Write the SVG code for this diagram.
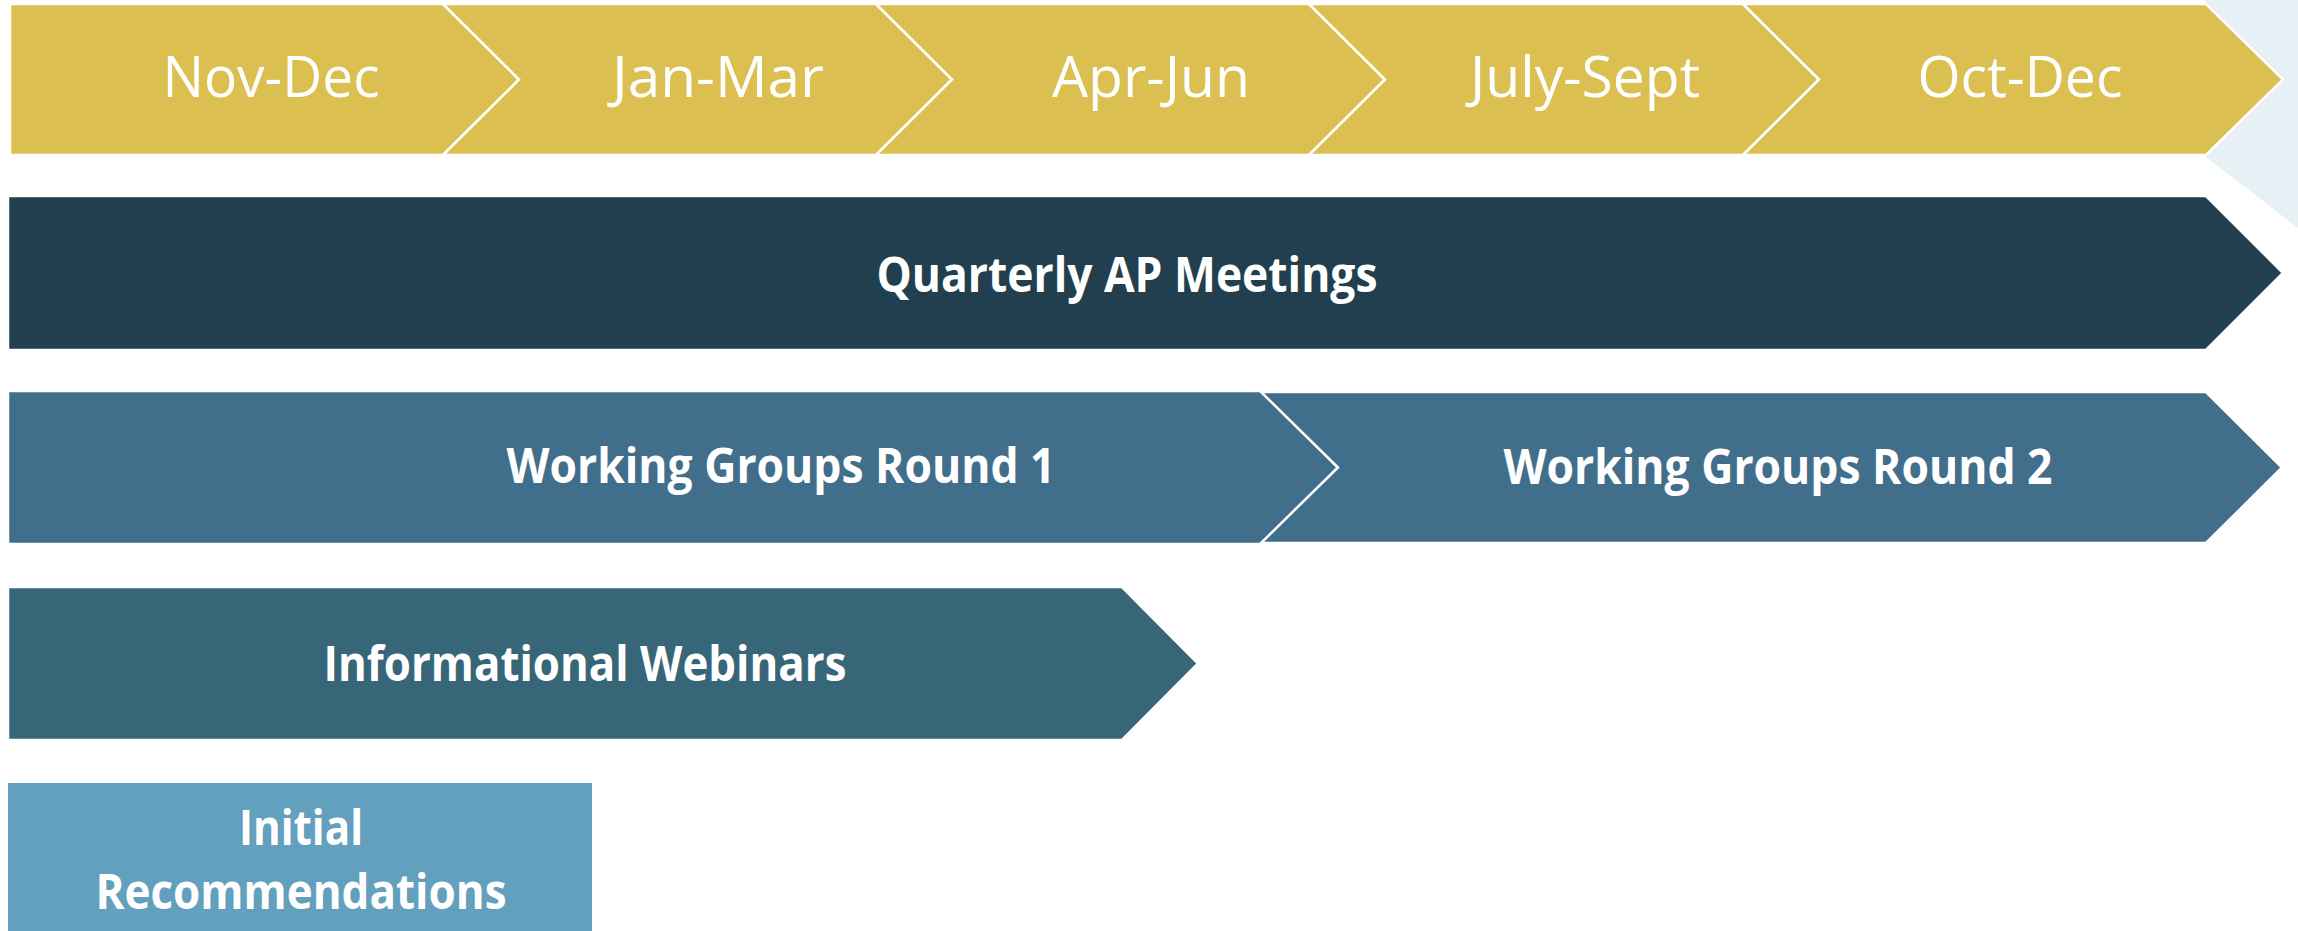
<svg xmlns="http://www.w3.org/2000/svg" width="2298" height="931" viewBox="0 0 2298 931">
<style>
.seg{fill:#DBBF51;stroke:#fff;stroke-width:2.5;stroke-linejoin:miter}
.lt{font-family:"Open Sans","Liberation Sans",sans-serif;font-weight:400;font-size:56px;fill:#fff;text-anchor:middle}
.bd{font-family:"Open Sans","Liberation Sans",sans-serif;font-weight:700;font-size:49px;fill:#fff;text-anchor:middle}
.bar{stroke:#fff;stroke-width:2.5}
</style>
<rect width="2298" height="931" fill="#fff"/>
<polygon points="2205,0 2298,0 2298,228 2206,157" fill="#E7F0F4"/>
<g id="timeline">
<g id="nov-dec"><polygon class="seg" points="10,4 443,4 519,79.5 443,155 10,155"/><text class="lt" x="271" y="97" textLength="217" lengthAdjust="spacingAndGlyphs">Nov-Dec</text></g>
<g id="jan-mar"><polygon class="seg" points="443,4 876,4 952,79.5 876,155 443,155 519,79.5"/><text class="lt" x="718" y="97" textLength="212" lengthAdjust="spacingAndGlyphs">Jan-Mar</text></g>
<g id="apr-jun"><polygon class="seg" points="876,4 1309,4 1385,79.5 1309,155 876,155 952,79.5"/><text class="lt" x="1151" y="97" textLength="198" lengthAdjust="spacingAndGlyphs">Apr-Jun</text></g>
<g id="july-sept"><polygon class="seg" points="1309,4 1743,4 1819,79.5 1743,155 1309,155 1385,79.5"/><text class="lt" x="1585" y="97" textLength="230" lengthAdjust="spacingAndGlyphs">July-Sept</text></g>
<g id="oct-dec"><polygon class="seg" points="1743,4 2206,4 2283,79.5 2206,155 1743,155 1819,79.5"/><text class="lt" x="2020" y="97" textLength="205" lengthAdjust="spacingAndGlyphs">Oct-Dec</text></g>
</g>
<g id="quarterly">
<polygon class="bar" fill="#213F4E" points="8,196 2206,196 2283,273 2206,350 8,350"/>
<text class="bd" x="1127" y="292" textLength="501" lengthAdjust="spacingAndGlyphs">Quarterly AP Meetings</text>
</g>
<g id="wg1">
<polygon class="bar" fill="#416F8B" points="8,391 1261,391 1338,467.5 1261,544 8,544"/>
<text class="bd" x="781" y="483" textLength="549" lengthAdjust="spacingAndGlyphs">Working Groups Round 1</text>
</g>
<g id="wg2">
<polygon class="bar" fill="#416F8B" points="1261,392 2206,392 2282,467.5 2206,543 1261,543 1338,467.5"/>
<text class="bd" x="1778" y="484" textLength="549" lengthAdjust="spacingAndGlyphs">Working Groups Round 2</text>
</g>
<g id="webinars">
<polygon class="bar" fill="#376679" points="8,587 1122,587 1198,663.5 1122,740 8,740"/>
<text class="bd" x="585" y="681" textLength="523" lengthAdjust="spacingAndGlyphs">Informational Webinars</text>
</g>
<g id="initial">
<rect x="8" y="783" width="584" height="150" fill="#62A0BE"/>
<text class="bd" x="301" y="845" textLength="124" lengthAdjust="spacingAndGlyphs">Initial</text>
<text class="bd" x="301" y="909" textLength="411" lengthAdjust="spacingAndGlyphs">Recommendations</text>
</g>
<g id="connectors"/>
</svg>
